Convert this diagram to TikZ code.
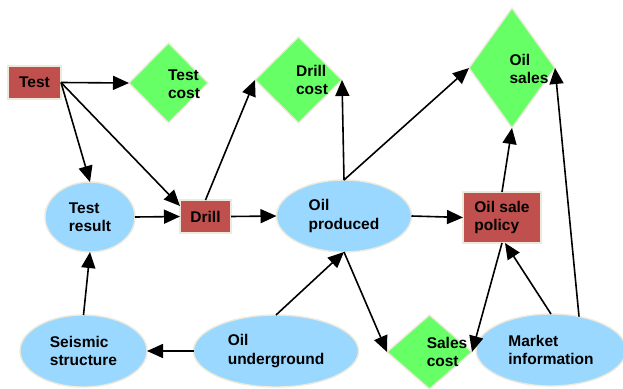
\documentclass[tikz,border=0pt]{standalone}
\usepackage{fontspec}
\setmainfont{Liberation Sans}
\usetikzlibrary{shapes.geometric,arrows.meta}
\definecolor{decred}{HTML}{C0504D}
\definecolor{costgreen}{HTML}{66FF66}
\definecolor{chanceblue}{HTML}{9BD8FF}
\definecolor{rim}{HTML}{EDEADC}
\begin{document}
\begin{tikzpicture}[x=1pt,y=-1pt,
  base/.style={draw=rim,line width=1.4pt,inner sep=0pt,outer sep=0pt,
    font=\fontsize{15.5}{18.5}\selectfont\bfseries,align=left},
  decision/.style={base,rectangle,fill=decred},
  chance/.style={base,ellipse,fill=chanceblue},
  cost/.style={base,diamond,fill=costgreen},
  lbl/.style={font=\fontsize{15.5}{18.5}\selectfont\bfseries,align=left,inner sep=0pt},
  link/.style={line width=1.6pt,-{Triangle[length=16pt,width=14pt]}}]
\path[use as bounding box] (0,0) rectangle (623,388);

% decision nodes
\node[decision,minimum width=53pt,minimum height=33pt] (test) at (34.5,82.5) {Test};
\node[decision,minimum width=51pt,minimum height=33pt] (drill) at (205.5,216.5) {Drill};
\node[decision,minimum width=78pt,minimum height=51pt] (policy) at (502,217.5) {Oil sale\\policy};

% chance nodes
\node[chance,minimum width=90pt,minimum height=70pt] (result) at (90,217) {Test\\result};
\node[chance,minimum width=135pt,minimum height=72pt] (produced) at (344,216) {Oil\\produced};
\node[chance,minimum width=127pt,minimum height=72pt] (seismic) at (83.5,351) {Seismic\\structure};
\node[chance,minimum width=165pt,minimum height=72pt] (underground) at (276,351) {Oil\\underground};
\node[chance,minimum width=150pt,minimum height=72pt] (market) at (551,350) {Market\\information};

% cost / value nodes
\node[cost,minimum width=79pt,minimum height=80pt] (testcost) at (168.5,83) {};
\node[lbl] at (184,84) {Test\\cost};
\node[cost,minimum width=87pt,minimum height=86pt] (drillcost) at (298.5,80) {};
\node[lbl] at (312,80) {Drill\\cost};
\node[cost,minimum width=86pt,minimum height=120pt] (sales) at (512,68) {};
\node[lbl] at (529,69) {Oil\\sales};
\node[cost,minimum width=85pt,minimum height=74pt] (salescost) at (429.5,352) {};
\node[lbl] at (447,352) {Sales\\cost};

% influences
\draw[link] (test.east) -- (testcost.west);
\draw[link] (test.east) -- (result.north);
\draw[link] (test.east) -- ([yshift=-6pt]drill.north west);
\draw[link] (result.east) -- (drill.west);
\draw[link] (drill.north) -- (drillcost.west);
\draw[link] (drill.east) -- (produced.west);
\draw[link] (produced.north) -- (drillcost.east);
\draw[link] (produced.north) -- (sales.west);
\draw[link] (produced.east) -- (policy.west);
\draw[link] (policy.north) -- (sales.south);
\draw[link] (market.50) -- (sales.east);
\draw[link] (market.north) -- ([xshift=3pt]policy.south);
\draw[link] (policy.south) -- (salescost.east);
\draw[link] (produced.south) -- (salescost.west);
\draw[link] (underground.north) -- (produced.south);
\draw[link] (underground.west) -- (seismic.east);
\draw[link] (seismic.north) -- (result.south);
\end{tikzpicture}
\end{document}
